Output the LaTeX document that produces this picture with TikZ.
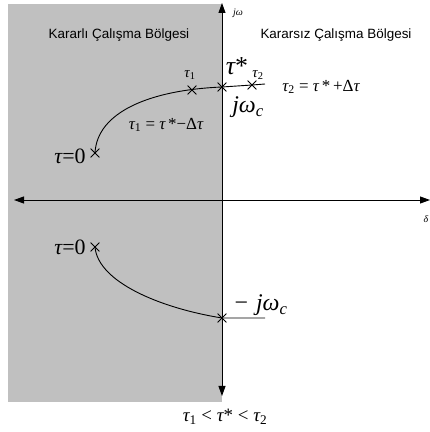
\documentclass[tikz,border=0pt]{standalone}
\usepackage{fontspec}
\newfontfamily\ars{Liberation Sans}
\newfontfamily\tms{Liberation Serif}
\usetikzlibrary{shapes.misc,arrows.meta}
\newcommand\ti[1]{{\itshape #1}}
\tikzset{
  x=1bp,y=1bp,
  axisline/.style={line width=0.9bp,{Triangle[length=10bp,width=7bp]}-{Triangle[length=10bp,width=7bp]}},
  curveline/.style={line width=0.9bp},
  xmark/.style={cross out,draw,line width=0.8bp,minimum size=8bp,inner sep=0pt},
  region/.style={font=\ars\fontsize{13.5}{16}\selectfont,inner sep=0pt},
  lbl/.style={font=\tms\fontsize{#1}{#1}\selectfont,inner sep=0pt}
}
\begin{document}
\begin{tikzpicture}
\useasboundingbox (0,0) rectangle (430,432);
\fill[fill={rgb,255:red,192;green,192;blue,192}] (8,30) rectangle (222,428);
% axes
\coordinate (vtop) at (222,429);
\coordinate (vbot) at (222,36);
\coordinate (hl) at (14,232);
\coordinate (hr) at (430,232);
\draw[axisline] (vbot) -- (vtop);
\draw[axisline] (hl) -- (hr);
\node[lbl=10] (jw) at (238,419) {\ti{jω}};
\node[lbl=10] (dl) at (426,213) {\ti{δ}};
% region titles
\node[region] (stab) at (119,397) {Kararlı Çalışma Bölgesi};
\node[region] (unst) at (336,397) {Kararsız Çalışma Bölgesi};
% crosses
\node[xmark] (u0) at (95,279) {};
\node[xmark] (ut1) at (192,342) {};
\node[xmark] (us) at (222,345) {};
\node[xmark] (ut2) at (252,347) {};
\coordinate (uend) at (265,348);
\node[xmark] (l0) at (95,185) {};
\node[xmark] (ls) at (222,114) {};
\coordinate (lend) at (265,114);
% curves
\draw[curveline] (u0.center) .. controls (97,320) and (150,342) .. (us.center) -- (ut2.center) -- (uend);
\draw[curveline] (l0.center) .. controls (98,150) and (160,124) .. (ls.center) -- (lend);
% labels
\node[lbl=22] (u0l) at (70,276) {\ti{τ}=0};
\node[lbl=22] (l0l) at (70,185) {\ti{τ}=0};
\node[lbl=15] (t1l) at (190,357) {\ti{τ}\textsubscript{1}};
\node[lbl=15] (t2l) at (258,357) {\ti{τ}\textsubscript{2}};
\node[lbl=26] (tsl) at (237,366) {\ti{τ}*};
\node[lbl=17] (t2eq) at (321,345) {\ti{τ}\textsubscript{2} = \ti{τ}\,*\,+Δ\ti{τ}};
\node[lbl=17] (t1eq) at (166,307) {\ti{τ}\textsubscript{1} = \ti{τ}\,*−Δ\ti{τ}};
\node[lbl=24] (jwc) at (248,325) {\ti{jω}\textsubscript{\ti{c}}};
\node[lbl=24] (mjwc) at (261,127) {−\,\,\ti{jω}\textsubscript{\ti{c}}};
\node[lbl=19] (ineq) at (225,15) {\ti{τ}\textsubscript{1} < \ti{τ}* < \ti{τ}\textsubscript{2}};
\end{tikzpicture}
\end{document}
